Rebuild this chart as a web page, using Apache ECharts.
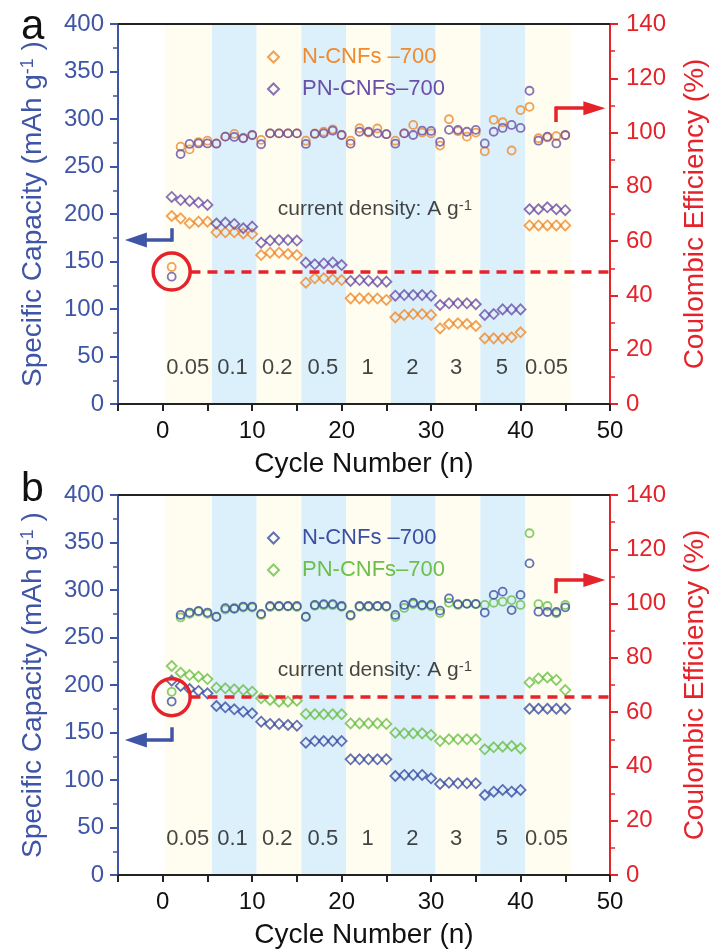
<!DOCTYPE html>
<html><head><meta charset="utf-8">
<script src="https://cdn.jsdelivr.net/npm/echarts@6/dist/echarts.min.js"></script>
<style>html,body{margin:0;padding:0;background:#fff}#c{width:717px;height:951px}</style>
</head><body><div id="c"></div>
<script>
// ---------- data ----------
const cycles = [1,2,3,4,5,6,7,8,9,10,11,12,13,14,15,16,17,18,19,20,21,22,23,24,25,26,27,28,29,30,31,32,33,34,35,36,37,38,39,40,41,42,43,44,45];

// panel a : capacity (mAh g-1)
const capN_a  = [197.9,195.4,190.2,191.9,191.9,180.7,180.7,180.7,179.6,178.9,156.8,159.3,159.3,157.9,156.8,127.7,132.3,132.3,131.2,130.5,111.2,111.2,111.2,111.0,109.5,91.2,93.7,94.7,94.7,93.7,79.6,84.2,84.9,84.2,82.1,69.1,69.1,69.1,70.2,75.5,188,188,188,188,188];
const capPN_a = [218,214.7,213.7,212,209.5,190,191,189.5,185,186.7,169.8,172,172.6,172.6,172,148.8,147,148,149,146.3,129.5,130.5,129.8,128.8,128.8,114,114.7,114.7,114.7,114,104.2,106,106,106,105,93.7,94.7,99.6,99.6,99.6,205,205,207,205,204];
// panel a : coulombic efficiency (%)
const ceN_a  = [50.5,94.8,93.8,96.5,97,96,98.5,99.5,98,99,97.3,99.7,99.7,99.7,99.7,97,99.7,100.3,101.2,99.1,97,101.6,100,101.5,99.4,97,99.7,102.8,100,99.7,95.2,104.9,100.5,98.5,100,93.1,104.7,103.8,93.4,108.3,109.5,97.9,98.2,98.7,99];
const cePN_a = [46.9,92.1,95.8,96,96,95.9,98.5,98.4,97.9,99.1,95.7,99.7,99.7,99.7,99.7,95.8,99.5,99.7,100.7,99.1,95.9,100.3,100.3,99.7,99.4,95.9,99.7,99.1,100.7,100.6,96.6,101,101,100.3,101,96,100.3,101.7,102.8,101.7,115.4,97,98.5,96,99.1];

// panel b : capacity (mAh g-1)
const capN_b  = [204.6,199,195.8,193.7,191.2,177.9,176.5,174.4,171.9,170.2,161.4,159,159,157.9,157.2,139.3,141,141,141,141,121.8,121.8,121.8,121.8,121.8,104.2,105.3,105.3,105.3,101.8,95.8,97.2,96.5,96.5,96.5,84.2,87.7,89.5,87.7,89.5,175,175,175,175,175];
const capPN_b = [220,213,210.5,208.8,206.3,197.2,196.5,195.4,194.7,193,186,184.2,182.5,182.5,183.5,169.5,169.2,169.2,169.2,169.2,159.6,159.6,159.6,159.6,159,149.8,149.1,149.1,149.1,147.4,141,142.8,142.8,142.8,142.8,132.3,134.4,135,135.8,133.3,202.7,206.9,207.9,205.3,194.7];
// panel b : coulombic efficiency (%)
const ceN_b  = [63.9,95.8,96.7,97.3,96.7,95.2,98.3,98.1,98.9,98.9,96.2,99.1,99.1,99.1,99.1,95.2,99.5,99.8,99.8,99.1,95.8,99.1,99.1,99.1,99.1,95.8,99.5,100.3,99.5,99.5,97.4,101.9,99.8,99.9,99.9,96.7,103.2,104.4,97.6,103.2,114.8,97,96.9,96.9,98.6];
const cePN_b = [67.5,94.9,96.2,97.0,96.2,95.0,97.8,98.4,98.5,98.5,95.8,98.7,98.9,98.9,98.7,95.0,99.2,99.4,99.4,98.8,95.5,98.8,98.8,99.0,98.8,95.0,98.4,99.8,99.2,99.0,96.5,100.3,99.5,100.0,99.7,99.5,100.3,100.7,101.3,99.5,125.9,99.8,99.1,96.4,99.5];

// current-density labels and shaded bands
const rateLabels = ['0.05','0.1','0.2','0.5','1','2','3','5','0.05'];
const rateX = [2.8,7.8,12.8,17.9,22.9,27.9,32.8,37.9,42.9];
const rateY = 37.5;
const bandEdges = [0.2,5.5,10.5,15.5,20.5,25.5,30.5,35.5,40.5,45.6];

// x tick labels, legend names
const xTickLabels = [0,10,20,30,40,50];
const seriesNames = ['N-CNFs \u2013700','PN-CNFs\u2013700'];

// annotation values (data space)
const refCE = [48.8, 65.5];
const leftArrowY = [172.6, 142.1];
const leftArrowTop = [185, 155.5];
const rightArrowY = [109, 108.7];
const rightArrowBottom = [103.9, 103.8];
const noteY = [205.3, 215.8];

// ---------- styles ----------
const FONT = '"Liberation Sans", Arial, Helvetica, sans-serif';
const ORANGE = '#ef8a2d', PURPLE = '#6a4fa8', NBLUE = '#3b4ea3', GREEN = '#6cbf48';
const AXBLUE = '#3f55a6', RED = '#e5232b', BAND_Y = '#fefdf0', BAND_B = '#dcf0fb';
const pairs = (xs, ys) => xs.map((x, i) => [x, ys[i]]);

const grids = [{left:118, top:24, width:493, height:380},{left:118, top:495, width:493, height:380}];

function bottomX(g){return {gridIndex:g,type:'value',position:'bottom',min:-5,max:50,interval:5,
  axisLine:{onZero:false,lineStyle:{color:'#222',width:2}},
  axisTick:{length:7,lineStyle:{color:'#222',width:2}},
  axisLabel:{fontSize:24,color:'#111',margin:15,fontFamily:FONT,
    formatter:v=> xTickLabels.indexOf(v)>=0 ? String(v) : ''},
  splitLine:{show:false},
  name:'Cycle Number (n)',nameLocation:'middle',nameGap:46,
  nameTextStyle:{fontSize:28,color:'#111',fontFamily:FONT}};}
function topX(g){return {gridIndex:g,type:'value',position:'top',min:-5,max:50,
  axisLine:{onZero:false,lineStyle:{color:'#222',width:2}},axisTick:{show:false},axisLabel:{show:false},splitLine:{show:false}};}
function leftY(g){return {gridIndex:g,type:'value',position:'left',min:0,max:400,interval:50,
  axisLine:{show:true,onZero:false,lineStyle:{color:AXBLUE,width:2}},
  axisTick:{show:true,length:8,lineStyle:{color:AXBLUE,width:2}},
  minorTick:{show:true,splitNumber:2,length:5,lineStyle:{color:AXBLUE,width:1.5}},
  axisLabel:{fontSize:24,color:AXBLUE,margin:14,fontFamily:FONT},
  splitLine:{show:false},
  name:'Specific Capacity (mAh g{sup|-1} )',nameLocation:'middle',nameRotate:90,nameGap:71,
  nameTextStyle:{fontSize:28,color:AXBLUE,fontFamily:FONT,
    rich:{sup:{fontSize:18,color:AXBLUE,fontFamily:FONT,verticalAlign:'top'}}}};}
function rightY(g){return {gridIndex:g,type:'value',position:'right',min:0,max:140,interval:20,
  axisLine:{show:true,onZero:false,lineStyle:{color:RED,width:2}},
  axisTick:{show:true,length:8,lineStyle:{color:RED,width:2}},
  minorTick:{show:true,splitNumber:2,length:5,lineStyle:{color:RED,width:1.5}},
  axisLabel:{fontSize:24,color:RED,margin:16,fontFamily:FONT},
  splitLine:{show:false},
  name:'Coulombic Efficiency (%)',nameLocation:'middle',nameRotate:90,nameGap:71,
  nameTextStyle:{fontSize:28,color:RED,fontFamily:FONT}};}

function scat(name, data, color, xi, yi, symbol, size, z){
  return {type:'scatter',name,xAxisIndex:xi,yAxisIndex:yi,data,symbol,symbolSize:size,silent:true,z:z||3,
    itemStyle:{color:'rgba(0,0,0,0)',borderColor:color,borderWidth:1.8},emphasis:{disabled:true}};
}

function panel(p, cap1, cap2, ce1, ce2, c1, c2, topColorOrder){
  const xi = p*2, yl = p*2, yr = p*2+1;
  const suffix = p===0 ? '' : ' (b)';
  const out = [];
  out.push({type:'scatter',name:'rates'+p,xAxisIndex:xi,yAxisIndex:yl,silent:true,z:2,
    data: rateX.map((x,i)=>[x,rateY,rateLabels[i]]),symbolSize:1,itemStyle:{color:'rgba(0,0,0,0)'},
    label:{show:true,position:'inside',formatter:q=>q.data[2],fontSize:22,color:'#151515',fontFamily:FONT},
    markArea:{silent:true,z:0,data: bandEdges.slice(0,-1).map((e,i)=>[
      {xAxis:e,itemStyle:{color: i%2 ? BAND_B : BAND_Y}},{xAxis:bandEdges[i+1]}])}});
  out.push({type:'scatter',name:'note'+p,xAxisIndex:xi,yAxisIndex:yl,silent:true,z:2,
    data:[[12.8,noteY[p]]],symbolSize:1,itemStyle:{color:'rgba(0,0,0,0)'},
    label:{show:true,position:'right',distance:0,formatter:'current density: A g{sup|-1}',fontSize:21,color:'#151515',fontFamily:FONT,
      rich:{sup:{fontSize:15,color:'#151515',fontFamily:FONT,verticalAlign:'top'}}}});
  const ceSeries = [scat('ce1_'+p, pairs(cycles, ce1), c1, xi, yr, 'circle', 8),
                    scat('ce2_'+p, pairs(cycles, ce2), c2, xi, yr, 'circle', 8)];
  const capSeries = [scat(seriesNames[0]+suffix, pairs(cycles, cap1), c1, xi, yl, 'diamond', 10),
                     scat(seriesNames[1]+suffix, pairs(cycles, cap2), c2, xi, yl, 'diamond', 10)];
  if (topColorOrder) { ceSeries.reverse(); }
  ceSeries[0].markPoint = {silent:true,symbol:'circle',symbolSize:37,
    itemStyle:{color:'rgba(0,0,0,0)',borderColor:RED,borderWidth:3.5},label:{show:false},
    data:[{coord:[1,refCE[p]]}]};
  ceSeries[0].markLine = {silent:true,symbol:['none','none'],label:{show:false},animation:false,
    lineStyle:{color:RED,width:3.5,type:'solid'},emphasis:{disabled:true},
    data:[
      [{coord:[3.1,refCE[p]],lineStyle:{type:[10,7],width:3.5,color:RED}},{coord:[50,refCE[p]]}],
      [{coord:[43.9,rightArrowBottom[p]]},{coord:[43.9,rightArrowY[p]+0.6]}],
      [{coord:[43.9,rightArrowY[p]]},{coord:[48.25,rightArrowY[p]],symbol:'triangle',symbolSize:[14,22]}]
    ]};
  capSeries[0].markLine = {silent:true,symbol:['none','none'],label:{show:false},animation:false,
    lineStyle:{color:AXBLUE,width:3.5,type:'solid'},emphasis:{disabled:true},
    data:[
      [{coord:[1.05,leftArrowTop[p]]},{coord:[1.05,leftArrowY[p]-1.7]}],
      [{coord:[1.05,leftArrowY[p]]},{coord:[-3.0,leftArrowY[p]],symbol:'triangle',symbolSize:[15,22]}]
    ]};
  return out.concat(ceSeries, capSeries);
}

const legendFor = (p, c1, c2, top) => ({
  orient:'vertical',left:262,top,itemWidth:11,itemHeight:11,itemGap:10,selectedMode:false,
  textStyle:{fontSize:22,fontFamily:FONT,rich:{g:{width:18},t:{fontSize:22,lineHeight:24,fontFamily:FONT}}},
  formatter: n => '{g| }{t|' + n.replace(' (b)','') + '}',
  data:[
    {name:seriesNames[0]+(p?' (b)':''),icon:'diamond',itemStyle:{color:'rgba(0,0,0,0)',borderColor:c1,borderWidth:2},textStyle:{color:c1}},
    {name:seriesNames[1]+(p?' (b)':''),icon:'diamond',itemStyle:{color:'rgba(0,0,0,0)',borderColor:c2,borderWidth:2},textStyle:{color:c2}}
  ]
});

const option = {
  animation:false,
  textStyle:{fontFamily:FONT},
  grid:grids,
  xAxis:[bottomX(0),topX(0),bottomX(1),topX(1)],
  yAxis:[leftY(0),rightY(0),leftY(1),rightY(1)],
  legend:[legendFor(0,ORANGE,PURPLE,41),legendFor(1,NBLUE,GREEN,522)],
  series:[].concat(
    panel(0,capN_a,capPN_a,ceN_a,cePN_a,ORANGE,PURPLE,false),
    panel(1,capN_b,capPN_b,ceN_b,cePN_b,NBLUE,GREEN,true)
  ),
  graphic:[
    {type:'text',left:21,top:6,style:{text:'a',fontSize:42,fill:'#111',fontFamily:FONT}},
    {type:'text',left:21,top:469,style:{text:'b',fontSize:41,fill:'#111',fontFamily:FONT}}
  ]
};
const chart = echarts.init(document.getElementById('c'),null,{renderer:'canvas'});
chart.setOption(option);
</script></body></html>
